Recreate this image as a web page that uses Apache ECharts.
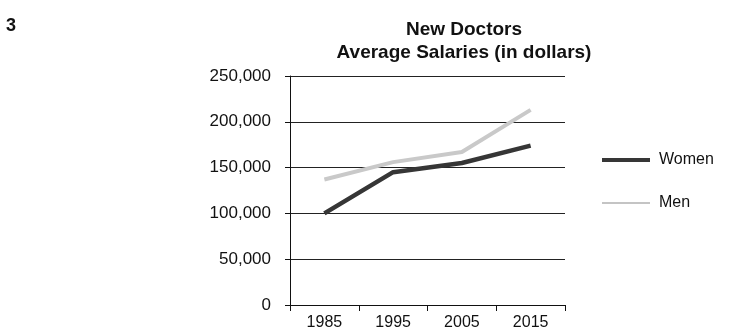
<!DOCTYPE html>
<html><head><meta charset="utf-8">
<script src="https://cdn.jsdelivr.net/npm/echarts@6/dist/echarts.min.js"></script>
<style>html,body{margin:0;padding:0;background:#fff}#c{width:743px;height:336px}</style>
</head><body><div id="c"></div>
<script>
const years = ['1985', '1995', '2005', '2015'];
const women = [100000, 145000, 155000, 174000];
const men = [137000, 156000, 167000, 213000];
const titleLines = ['New Doctors', 'Average Salaries (in dollars)'];
const FONT = "'Liberation Sans', Arial, Helvetica, sans-serif";

const chart = echarts.init(document.getElementById('c'), null, {renderer: 'canvas'});
chart.setOption({
  animation: false,
  backgroundColor: '#fff',
  title: {
    text: titleLines.join('\n'),
    left: 459, top: 13, textAlign: 'center',
    textStyle: {fontFamily: FONT, fontWeight: 'bold', fontSize: 19, color: '#111', lineHeight: 23.5}
  },
  graphic: [{
    type: 'text', left: 6, top: 17,
    style: {text: '3', font: 'bold 18px ' + FONT, fill: '#111'}
  }],
  legend: [{
    data: ['Women'], orient: 'vertical', left: 597, top: 147,
    icon: 'rect', itemWidth: 48, itemHeight: 4,
    textStyle: {fontFamily: FONT, fontSize: 16, color: '#111', padding: [0, 0, 0, 4]}
  }, {
    data: ['Men'], orient: 'vertical', left: 597, top: 190,
    icon: 'rect', itemWidth: 48, itemHeight: 2,
    textStyle: {fontFamily: FONT, fontSize: 16, color: '#111', padding: [0, 0, 0, 4]}
  }],
  grid: {left: 290, right: 178, top: 76, bottom: 31, containLabel: false},
  xAxis: {
    type: 'category', data: years, boundaryGap: true,
    axisLine: {lineStyle: {color: '#111', width: 1}},
    axisTick: {show: true, length: 6, alignWithLabel: false, lineStyle: {color: '#111'}},
    axisLabel: {fontFamily: FONT, fontSize: 16, color: '#111', margin: 10},
    splitLine: {show: false}
  },
  yAxis: {
    type: 'value', min: 0, max: 250000, interval: 50000,
    axisLine: {show: true, lineStyle: {color: '#111', width: 1}},
    axisTick: {show: true, length: 5, lineStyle: {color: '#111'}},
    axisLabel: {fontFamily: FONT, fontSize: 17, color: '#111', margin: 19,
      formatter: v => v.toLocaleString('en-US')},
    splitLine: {show: true, lineStyle: {color: '#222', width: 1}}
  },
  series: [{
    name: 'Women', type: 'line', data: women, symbol: 'none',
    lineStyle: {color: '#363636', width: 4.5}, itemStyle: {color: '#363636'}, z: 3
  }, {
    name: 'Men', type: 'line', data: men, symbol: 'none',
    lineStyle: {color: '#c9c9c9', width: 4}, itemStyle: {color: '#c4c4c4'}, z: 2
  }]
});
</script></body></html>
